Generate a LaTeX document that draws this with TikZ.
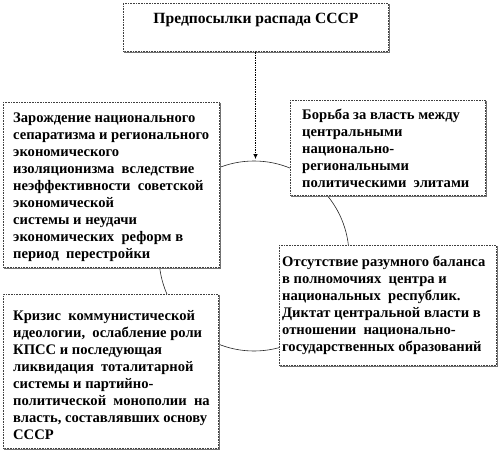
\documentclass[tikz,border=0pt]{standalone}
\usepackage{fontspec}
\setmainfont{Liberation Serif}
\usetikzlibrary{arrows.meta,shadows}
\begin{document}
\begin{tikzpicture}[x=1pt,y=-1pt,
  box/.style={draw=black!75, densely dotted, line width=0.6pt, fill=white, inner sep=0pt,
    copy shadow={shadow xshift=1.2pt, shadow yshift=-1.2pt, draw=black!55, solid, line width=0.6pt, fill=white}},
  txt/.style={inner sep=0pt, anchor=west, align=left, font=\bfseries\fontsize{14.6}{17}\selectfont},
  ring/.style={draw=black!85, line width=0.6pt}
]
\useasboundingbox (0,0) rectangle (498,452);
% ring
\draw[ring] (254,256) circle (95);
\coordinate (ctop) at (255.5,161);
% boxes
\node[box, minimum width=265pt, minimum height=48pt, anchor=north west] (top) at (123,3) {};
\node[box, minimum width=216pt, minimum height=165pt, anchor=north west] (b1) at (3,102) {};
\node[box, minimum width=195pt, minimum height=95pt, anchor=north west] (b2) at (290,100) {};
\node[box, minimum width=217pt, minimum height=120pt, anchor=north west] (b3) at (279,245) {};
\node[box, minimum width=215pt, minimum height=154pt, anchor=north west] (b4) at (3,294) {};
% texts
\node[txt, anchor=center, font=\bfseries\fontsize{15.6}{17}\selectfont] (t0) at (256,20) {Предпосылки распада СССР};
\node[txt] (t1) at ([xshift=10pt,yshift=-2pt]b1.west) {Зарождение национального\\сепаратизма и регионального\\экономического\\изоляционизма\ \ вследствие\\неэффективности\ \ советской\\экономической\\системы и неудачи\\экономических\ \ реформ в\\период\ \ перестройки};
\node[txt] (t2) at ([xshift=12pt,yshift=-1pt]b2.west) {Борьба за власть между\\центральными\\национально-\\региональными\\политическими\ \ элитами};
\node[txt] (t3) at ([xshift=3pt,yshift=0pt]b3.west) {Отсутствие разумного баланса\\в полномочиях\ \ центра и\\национальных\ \ республик.\\Диктат центральной власти в\\отношении\ \ национально-\\государственных образований};
\node[txt] (t4) at ([xshift=10pt,yshift=-4pt]b4.west) {Кризис\ \ коммунистической\\идеологии,\ \ ослабление роли\\КПСС и последующая\\ликвидация\ \ тоталитарной\\системы и партийно-\\политической\ \ монополии\ \ на\\власть, составлявших основу\\СССР};
% arrow
\draw[densely dotted, line width=0.7pt, -{Latex[length=5pt,width=4.5pt]}, shorten >=2pt] (top.south -| ctop) -- (ctop);
\end{tikzpicture}
\end{document}
